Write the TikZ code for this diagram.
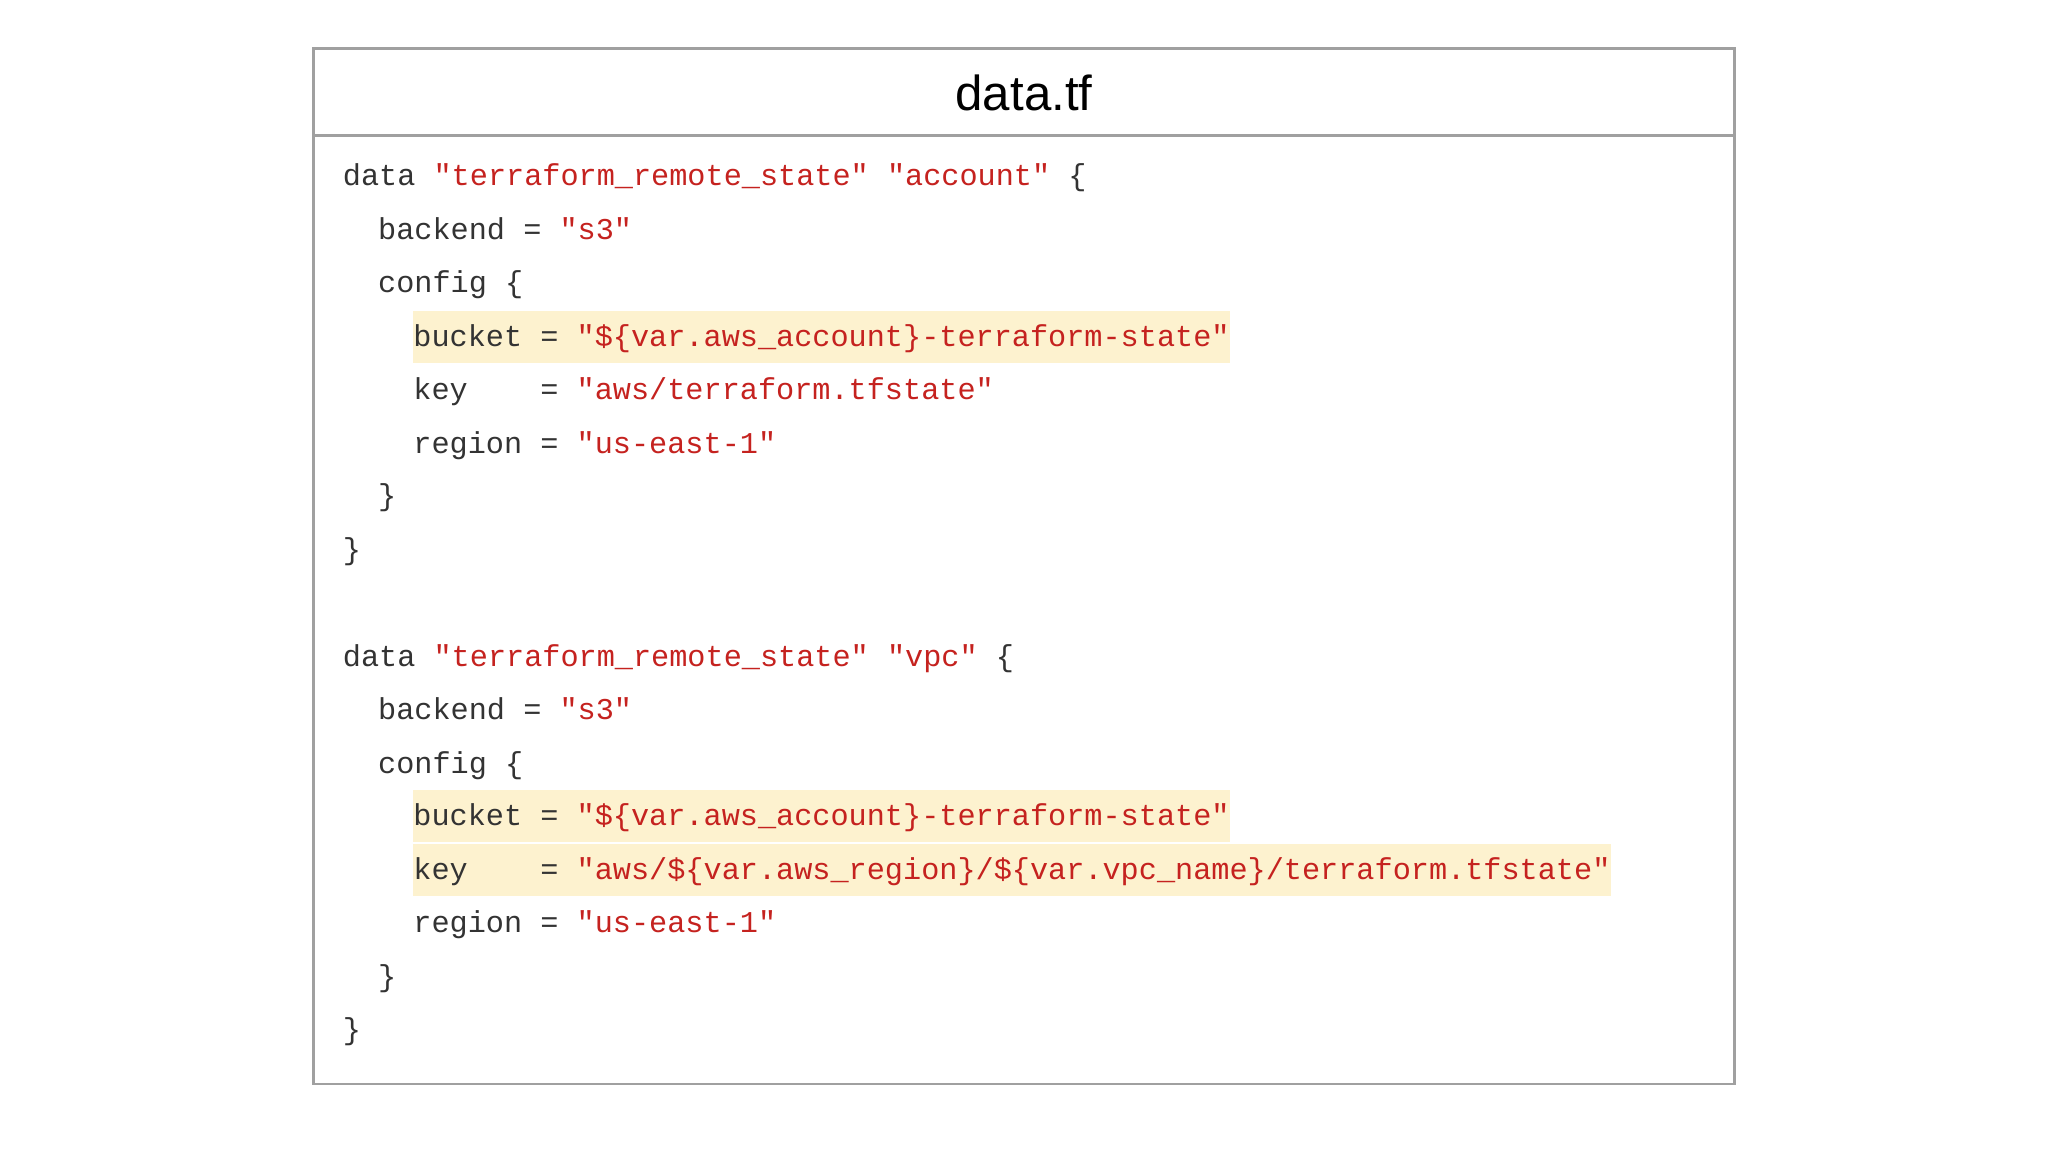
\documentclass[tikz,border=0pt]{standalone}
\usepackage{fontspec}
\setmainfont{Liberation Sans}
\newfontfamily\codefont{Liberation Mono}
\definecolor{strred}{HTML}{C5221F}
\definecolor{codegray}{HTML}{333333}
\definecolor{hl}{HTML}{FDF2CF}
\definecolor{frame}{HTML}{A0A0A0}
\newcommand\rs[1]{\textcolor{strred}{#1}}
\begin{document}
\begin{tikzpicture}[x=0.013061cm,y=-0.013061cm,
  code/.style={anchor=west,inner xsep=0pt,inner ysep=0pt,text height=1.9ex,text depth=0.9ex,font=\codefont\fontsize{8.6}{10}\selectfont,text=codegray},
  hcode/.style={code,fill=hl}]
\useasboundingbox (0,0) rectangle (1568,882);
\fill[white] (0,0) rectangle (1568,882);
\draw[frame,line width=0.8pt] (240,37) rectangle (1328,830);
\draw[frame,line width=0.8pt] (240,104) -- (1328,104);
\node[font=\fontsize{14}{16}\selectfont] (title) at (784,71) {data.tf};
\node[code] (a1) at (262,135) {data \rs{"terraform\_remote\_state"} \rs{"account"} \{};
\node[code] (a2) at (289,176) {backend = \rs{"s3"}};
\node[code] (a3) at (289,217) {config \{};
\node[hcode] (a4) at (316,258) {bucket = \rs{"\$\{var.aws\_account\}-terraform-state"}};
\node[code] (a5) at (316,299) {key\ \ \ \ = \rs{"aws/terraform.tfstate"}};
\node[code] (a6) at (316,340) {region = \rs{"us-east-1"}};
\node[code] (a7) at (289,380) {\}};
\node[code] (a8) at (262,421) {\}};
\node[code] (b1) at (262,503) {data \rs{"terraform\_remote\_state"} \rs{"vpc"} \{};
\node[code] (b2) at (289,544) {backend = \rs{"s3"}};
\node[code] (b3) at (289,585) {config \{};
\node[hcode] (b4) at (316,625) {bucket = \rs{"\$\{var.aws\_account\}-terraform-state"}};
\node[hcode] (b5) at (316,666) {key\ \ \ \ = \rs{"aws/\$\{var.aws\_region\}/\$\{var.vpc\_name\}/terraform.tfstate"}};
\node[code] (b6) at (316,707) {region = \rs{"us-east-1"}};
\node[code] (b7) at (289,748) {\}};
\node[code] (b8) at (262,789) {\}};
\end{tikzpicture}
\end{document}
